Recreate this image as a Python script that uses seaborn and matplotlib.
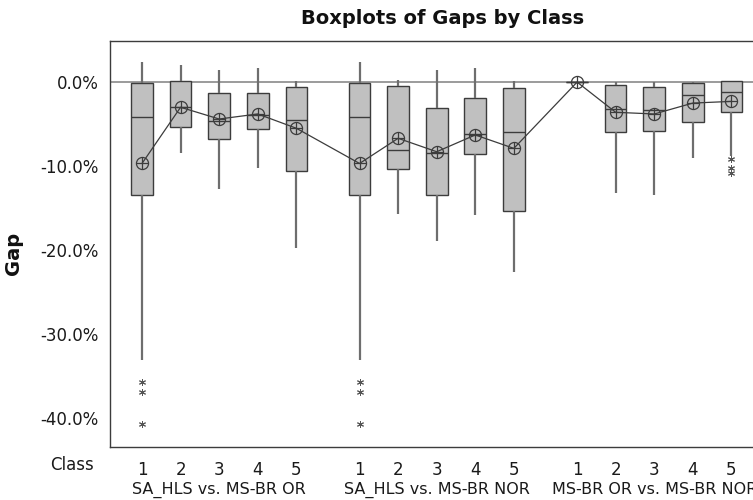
import numpy as np
import pandas as pd
import seaborn as sns
import matplotlib
matplotlib.use("Agg")
import matplotlib.pyplot as plt
from matplotlib.ticker import FuncFormatter
from matplotlib.transforms import blended_transform_factory

# ---------------- data (values in %) ----------------
comparisons = ["SA_HLS vs. MS-BR OR", "SA_HLS vs. MS-BR NOR", "MS-BR OR vs. MS-BR NOR"]
classes = [1, 2, 3, 4, 5]

whisker_low = [[-33.1, -8.4, -12.8, -10.2, -19.8],
               [-33.1, -15.7, -18.9, -15.9, -22.6],
               [0.0, -13.2, -13.5, -9.0, -8.8]]
q1 = [[-13.5, -5.3, -6.8, -5.6, -10.6],
      [-13.5, -10.4, -13.5, -8.6, -15.4],
      [0.0, -6.0, -5.8, -4.8, -3.6]]
median = [[-4.2, -3.0, -4.6, -3.9, -4.5],
          [-4.2, -8.1, -8.5, -6.2, -6.0],
          [0.0, -3.2, -3.3, -1.5, -1.2]]
q3 = [[-0.1, 0.1, -1.3, -1.3, -0.6],
      [-0.1, -0.5, -3.1, -1.9, -0.7],
      [0.0, -0.4, -0.6, -0.1, 0.1]]
whisker_high = [[2.4, 2.0, 1.4, 1.7, 0.1],
                [2.4, 0.2, 1.4, 1.7, 0.1],
                [0.0, 0.0, 0.0, 0.0, 0.1]]
outliers = [[[-35.8, -36.9, -40.7], [], [], [], []],
            [[-35.8, -36.9, -40.7], [], [], [], []],
            [[], [], [], [], [-9.2, -10.2, -10.8]]]
means = [[-9.7, -3.0, -4.4, -3.8, -5.5],
         [-9.7, -6.7, -8.3, -6.3, -7.9],
         [0.0, -3.6, -3.8, -2.5, -2.3]]

y_ticks = [0, -10, -20, -30, -40]

# ---------------- build sample table reproducing the box statistics ----------------
GROUP_STEP = 5.64


def expand(lo, a, m, b, hi, outs):
    k = len(outs)
    n = k + 1
    return (sorted(outs) + [lo] * (n - k) + [a] * n + [m] * n + [b] * n + [hi])


rows = []
mean_pos, mean_val = [], []
tick_pos, tick_lab = [], []
for g in range(len(comparisons)):
    for i, c in enumerate(classes):
        pos = g * GROUP_STEP + i
        vals = expand(whisker_low[g][i], q1[g][i], median[g][i], q3[g][i],
                      whisker_high[g][i], outliers[g][i])
        rows += [{"pos": pos, "gap": v} for v in vals]
        mean_pos.append(pos)
        mean_val.append(means[g][i])
        tick_pos.append(pos)
        tick_lab.append(str(c))
df = pd.DataFrame(rows)

# ---------------- plot ----------------
sns.set_style("white")
plt.rcParams["font.family"] = ["DejaVu Sans"]

fig = plt.figure(figsize=(7.53, 5.0), dpi=100)
ax = fig.add_axes([110 / 753, 1 - 447 / 500, 1 - 110 / 753, (447 - 41) / 500])

dark = "#3c3c3c"
ax.axhline(0, color="#8a8a8a", lw=1.2, zorder=0.5)

sns.boxplot(data=df, x="pos", y="gap", orient="x", native_scale=True,
            width=0.56, color="#c0c0c0", saturation=1, linecolor=dark,
            linewidth=1.0, showcaps=False,
            whiskerprops=dict(color="#6e6e6e", linewidth=1.6),
            flierprops=dict(marker=(6, 2, 0), markersize=5,
                            markeredgecolor="#555555", markeredgewidth=0.7),
            ax=ax, zorder=2)

sns.lineplot(x=mean_pos, y=mean_val, sort=False, color=dark, lw=0.9,
             marker="o", markersize=8.7, markerfacecolor="none",
             markeredgecolor=dark, markeredgewidth=0.9, ax=ax, zorder=4)
sns.scatterplot(x=mean_pos, y=mean_val, marker="+", s=76, color=dark,
                linewidth=0.9, ax=ax, zorder=5)

ax.set_xlim(-0.83, 15.84)
ax.set_ylim(-43.5, 4.9)
ax.set_yticks(y_ticks)
ax.yaxis.set_major_formatter(FuncFormatter(lambda v, p: f"{v:.1f}%"))
ax.set_xticks(tick_pos)
ax.set_xticklabels(tick_lab)
ax.set_xlabel("")
ax.set_ylabel("")

for s in ["left", "bottom", "top"]:
    ax.spines[s].set_color(dark)
    ax.spines[s].set_linewidth(1.0)
ax.spines["right"].set_visible(False)
ax.tick_params(axis="both", which="both", direction="out", length=5, width=1,
               color=dark, labelsize=12, labelcolor="#1a1a1a")
ax.tick_params(axis="x", pad=5)
ax.tick_params(axis="y", pad=3)

fig.text(443 / 753, 1 - 18 / 500, "Boxplots of Gaps by Class", ha="center",
         va="center", fontsize=14, fontweight="bold", color="#111111")
fig.text(14 / 753, 1 - 253 / 500, "Gap", ha="center", va="center", rotation=90,
         fontsize=14, fontweight="bold", color="#111111")
fig.text(72 / 753, 1 - 465 / 500, "Class", ha="center", va="center",
         fontsize=12, color="#1a1a1a")
trans = blended_transform_factory(ax.transData, fig.transFigure)
for g, name in enumerate(comparisons):
    fig.text(g * GROUP_STEP + 2, 1 - 490 / 500, name, transform=trans,
             ha="center", va="center", fontsize=11.5, color="#1a1a1a")

fig.savefig("out.png", dpi=100)
